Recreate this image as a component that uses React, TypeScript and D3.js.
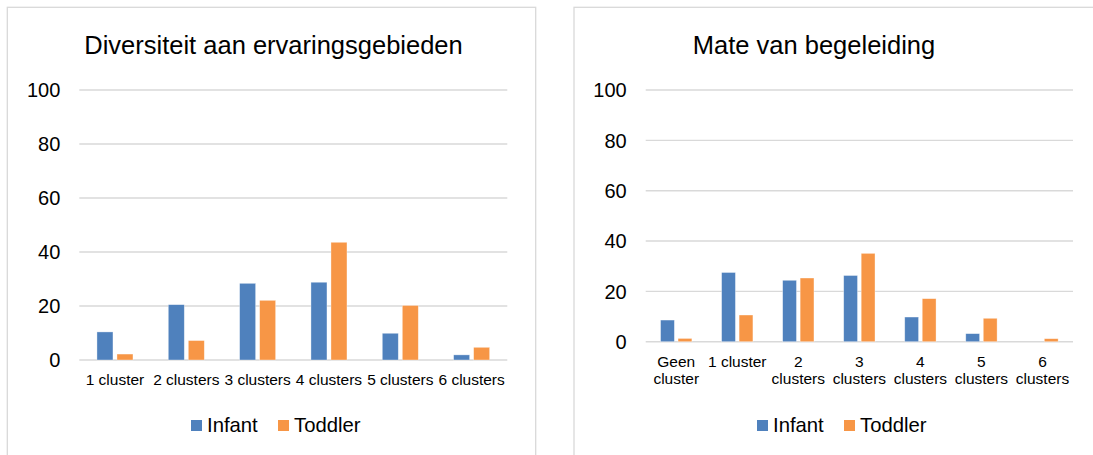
import React from 'react';
import * as d3 from 'd3';

// left chart: Diversiteit aan ervaringsgebieden
const diversityCategories = [['1 cluster'], ['2 clusters'], ['3 clusters'], ['4 clusters'], ['5 clusters'], ['6 clusters']];
const diversityInfant = [10.4, 20.5, 28.4, 28.8, 9.9, 1.9];
const diversityToddler = [2.2, 7.2, 22.1, 43.6, 20.2, 4.7];

// right chart: Mate van begeleiding
const guidanceCategories = [['Geen', 'cluster'], ['1 cluster'], ['2', 'clusters'], ['3', 'clusters'], ['4', 'clusters'], ['5', 'clusters'], ['6', 'clusters']];
const guidanceInfant = [8.6, 27.5, 24.4, 26.3, 9.8, 3.2, 0];
const guidanceToddler = [1.3, 10.6, 25.3, 35.1, 17.1, 9.3, 1.2];

const seriesNames = ['Infant', 'Toddler'];
const yTicks = [0, 20, 40, 60, 80, 100];

const colors = ['#4F81BD', '#F79646'];
const font = '"Liberation Sans", Arial, sans-serif';

type ChartProps = {
  title: string
  titleX: number
  categories: string[][]
  infant: number[]
  toddler: number[]
  box: [number, number, number]
  x0: number
  x1: number
  yTop: number
  yZero: number
  pad: number
  barPad: number
  labelY: number
  legendX: number
}

function BarChart(p: ChartProps) {
  const keys = p.categories.map(c => c.join(' '))
  const x = d3.scaleBand<string>()
    .domain(keys)
    .range([p.x0, p.x1])
    .paddingInner(p.pad)
    .paddingOuter(p.pad / 2)
  const xs = d3.scaleBand<string>()
    .domain(seriesNames)
    .range([0, x.bandwidth()])
    .paddingInner(p.barPad)
  const y = d3.scaleLinear().domain([0, 100]).range([p.yZero, p.yTop])
  const values = [p.infant, p.toddler]

  return (
    <g fontFamily={font} fill="#000">
      <rect x={p.box[0]} y={p.box[1]} width={p.box[2]} height={600} fill="#fff" stroke="#D9D9D9" strokeWidth={1.3} />
      <text x={p.titleX} y={54} fontSize={25.5} textAnchor="middle">{p.title}</text>
      {yTicks.map(t => (
        <g key={t}>
          <line x1={p.x0} x2={p.x1} y1={y(t)} y2={y(t)} stroke="#D9D9D9" strokeWidth={1.4} />
          <text x={p.x0 - 19} y={y(t)} dy="0.36em" fontSize={20} textAnchor="end">{t}</text>
        </g>
      ))}
      {keys.map((k, i) => (
        <g key={k}>
          {seriesNames.map((s, j) => {
            const v = values[j][i]
            if (!v) return null
            return (
              <rect key={s} x={(x(k) ?? 0) + (xs(s) ?? 0)} y={y(v)} width={xs.bandwidth()}
                height={y(0) - y(v)} fill={colors[j]} stroke="#fff" strokeOpacity={0.5} strokeWidth={0.7} />
            )
          })}
          {p.categories[i].map((line, li) => (
            <text key={li} x={(x(k) ?? 0) + x.bandwidth() / 2} y={p.labelY + li * 17.7}
              fontSize={15.5} textAnchor="middle">{line}</text>
          ))}
        </g>
      ))}
      <g transform={`translate(${p.legendX},0)`}>
        <rect x={0} y={420} width={11} height={11} fill={colors[0]} />
        <text x={16} y={432} fontSize={20.3}>{seriesNames[0]}</text>
        <rect x={87} y={420} width={11} height={11} fill={colors[1]} />
        <text x={103} y={432} fontSize={20.3}>{seriesNames[1]}</text>
      </g>
    </g>
  )
}

export default function App() {
  return (
    <svg width={1093} height={455} style={{ position: 'absolute', left: 0, top: 0, background: '#fff' }}>
      <rect width={1093} height={455} fill="#fff" />
      <BarChart title="Diversiteit aan ervaringsgebieden" titleX={273.5}
        categories={diversityCategories} infant={diversityInfant} toddler={diversityToddler}
        box={[7.3, 7.3, 528.4]} x0={79.3} x1={507.3} yTop={90} yZero={360}
        pad={0.495} barPad={0.2} labelY={385} legendX={191} />
      <BarChart title="Mate van begeleiding" titleX={814}
        categories={guidanceCategories} infant={guidanceInfant} toddler={guidanceToddler}
        box={[574, 7.3, 600]} x0={645.7} x1={1073} yTop={90} yZero={341.7}
        pad={0.487} barPad={0.21} labelY={366.5} legendX={757} />
    </svg>
  )
}
